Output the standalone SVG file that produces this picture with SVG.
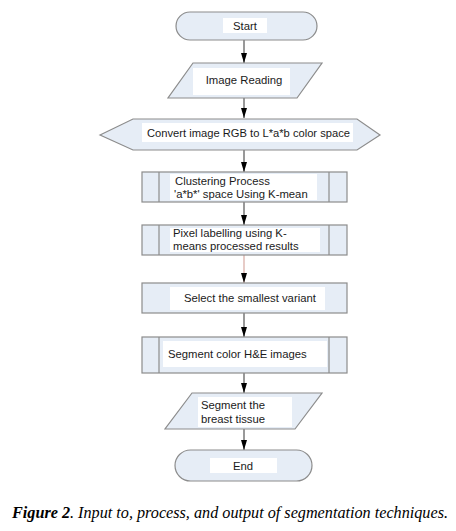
<svg xmlns="http://www.w3.org/2000/svg" width="456" height="531" viewBox="0 0 456 531">
<style>
.sh{fill:#e6edf6;stroke:#8c8c8c;stroke-width:1.2}
.lb{fill:#ffffff}
.t{font-family:"Liberation Sans",Arial,sans-serif;font-size:11.3px;fill:#1a1a1a}
.c{stroke:#555555;stroke-width:1.2;fill:none}
.cap{font-family:"Liberation Serif","Times New Roman",serif;font-size:16px;font-style:italic;fill:#000}
</style>
<defs>
<marker id="ah" markerWidth="10" markerHeight="6" refX="10" refY="3" orient="auto" markerUnits="userSpaceOnUse">
<path d="M0,0 L10,3 L0,6 Z" fill="#000"/>
</marker>
</defs>
<rect width="456" height="531" fill="#ffffff"/>
<g id="connectors">
<line class="c" x1="244" y1="40" x2="244" y2="63" marker-end="url(#ah)"/>
<line class="c" x1="244" y1="98" x2="244" y2="118" marker-end="url(#ah)"/>
<line class="c" x1="244" y1="150" x2="244" y2="172" marker-end="url(#ah)"/>
<line class="c" x1="244" y1="202" x2="244" y2="225" marker-end="url(#ah)"/>
<line x1="244" y1="255" x2="244" y2="283" stroke="#d7a9a2" stroke-width="1.2" marker-end="url(#ah)"/>
<line class="c" x1="244" y1="313" x2="244" y2="337" marker-end="url(#ah)"/>
<line class="c" x1="244" y1="373" x2="244" y2="393" marker-end="url(#ah)"/>
<line class="c" x1="244" y1="429" x2="244" y2="450" marker-end="url(#ah)"/>
</g>
<g id="start">
<rect class="sh" x="176" y="12" width="141" height="28" rx="14"/>
<rect class="lb" x="223" y="18" width="44" height="15"/>
<text class="t" x="245" y="29.5" text-anchor="middle">Start</text>
</g>
<g id="image-reading">
<polygon class="sh" points="193,63 322,63 297,98 168,98"/>
<rect class="lb" x="193" y="68" width="97" height="27"/>
<text class="t" x="244" y="84" text-anchor="middle">Image Reading</text>
</g>
<g id="convert">
<polygon class="sh" points="100,135 133,119 357,119 380,135 357,150 133,150"/>
<rect class="lb" x="142" y="123" width="211" height="19"/>
<text class="t" x="147" y="137" textLength="203" lengthAdjust="spacingAndGlyphs">Convert image RGB to L*a*b color space</text>
</g>
<g id="clustering">
<rect class="sh" x="142" y="172" width="205" height="30"/>
<line class="sh" x1="159" y1="172" x2="159" y2="202"/>
<line class="sh" x1="329" y1="172" x2="329" y2="202"/>
<rect class="lb" x="170" y="174" width="147" height="26"/>
<text class="t" x="175" y="185">Clustering Process</text>
<text class="t" x="174" y="198">'a*b*' space Using K-mean</text>
</g>
<g id="pixel-labelling">
<rect class="sh" x="142" y="225" width="205" height="30"/>
<line class="sh" x1="159" y1="225" x2="159" y2="255"/>
<line class="sh" x1="329" y1="225" x2="329" y2="255"/>
<rect class="lb" x="170" y="228" width="150" height="24"/>
<text class="t" x="173" y="237">Pixel labelling using K-</text>
<text class="t" x="173" y="250">means processed results</text>
</g>
<g id="select">
<rect class="sh" x="142" y="283" width="205" height="30"/>
<rect class="lb" x="170" y="287" width="155" height="23"/>
<text class="t" x="184" y="302">Select the smallest variant</text>
</g>
<g id="segment-color">
<rect class="sh" x="142" y="337" width="205" height="36"/>
<line class="sh" x1="159" y1="337" x2="159" y2="373"/>
<line class="sh" x1="329" y1="337" x2="329" y2="373"/>
<rect class="lb" x="163" y="341" width="164" height="26"/>
<text class="t" x="168" y="358">Segment color H&amp;E images</text>
</g>
<g id="segment-tissue">
<polygon class="sh" points="192,393 322,393 295,429 165,429"/>
<rect class="lb" x="198" y="397" width="94" height="30"/>
<text class="t" x="201" y="409">Segment the</text>
<text class="t" x="201" y="423">breast tissue</text>
</g>
<g id="end">
<rect class="sh" x="175" y="450" width="137" height="31" rx="15.5"/>
<rect class="lb" x="210" y="458" width="67" height="15"/>
<text class="t" x="243" y="469.5" text-anchor="middle">End</text>
</g>
<text class="cap" x="12" y="518" textLength="436" lengthAdjust="spacingAndGlyphs"><tspan font-weight="bold">Figure 2</tspan>. Input to, process, and output of segmentation techniques.</text>
</svg>
